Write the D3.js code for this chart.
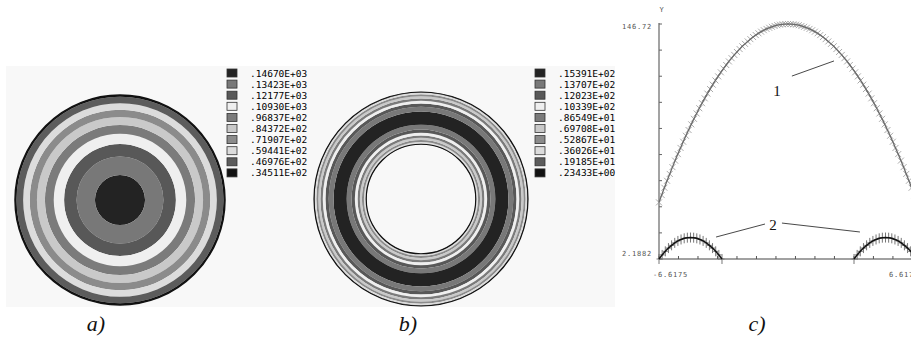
<!DOCTYPE html>
<html>
<head>
<meta charset="utf-8">
<script src="https://cdn.jsdelivr.net/npm/d3@7"></script>
<style>
  body { margin: 0; background: #fff; }
  svg { display: block; }
</style>
</head>
<body>
<svg id="fig" width="911" height="340"></svg>
<script>
// Konturstufen (Legenden a und b)
const levelsA = [146.70, 134.23, 121.77, 109.30, 96.837, 84.372, 71.907, 59.441, 46.976, 34.511];
const labelsA = [".14670E+03", ".13423E+03", ".12177E+03", ".10930E+03", ".96837E+02",
                 ".84372E+02", ".71907E+02", ".59441E+02", ".46976E+02", ".34511E+02"];
const levelsB = [15.391, 13.707, 12.023, 10.339, 8.6549, 6.9708, 5.2867, 3.6026, 1.9185, 0.23433];
const labelsB = [".15391E+02", ".13707E+02", ".12023E+02", ".10339E+02", ".86549E+01",
                 ".69708E+01", ".52867E+01", ".36026E+01", ".19185E+01", ".23433E+00"];
const levelColors = ["#232323", "#787878", "#585858", "#efefef", "#7b7b7b",
                     "#c9c9c9", "#8b8b8b", "#dcdcdc", "#5c5c5c", "#121212"];

// Diagramm c: Achsenbereiche
const xDomain = [-6.6175, 6.6175];
const yDomain = [2.1882, 146.72];
const xTickLabels = ["-6.6175", "6.6175"];
const yTickLabels = ["2.1882", "146.72"];

// Kurve 1: Profil über den Durchmesser der Vollscheibe (97 Punkte, gleichabständig in x)
const curve1 = [
  37.0, 41.5, 46.0, 50.3, 54.5, 58.7, 62.7, 66.7, 70.5, 74.3, 78.0, 81.5,
  85.0, 88.4, 91.7, 94.9, 98.0, 101.0, 103.9, 106.7, 109.4, 112.0, 114.5, 117.0,
  119.3, 121.5, 123.7, 125.7, 127.7, 129.5, 131.3, 133.0, 134.5, 136.0, 137.4, 138.7,
  139.9, 141.0, 142.0, 142.9, 143.7, 144.4, 145.0, 145.5, 146.0, 146.3, 146.5, 146.7,
  146.72,
  146.7, 146.5, 146.3, 146.0, 145.5, 145.0, 144.4, 143.7, 142.9, 142.0, 141.0, 139.9,
  138.7, 137.4, 136.0, 134.5, 133.0, 131.3, 129.5, 127.7, 125.7, 123.7, 121.5, 119.3,
  117.0, 114.5, 112.0, 109.4, 106.7, 103.9, 101.0, 98.0, 94.9, 91.7, 88.4, 85.0,
  81.5, 78.0, 74.3, 70.5, 66.7, 62.7, 58.7, 54.5, 50.3, 46.0, 41.5, 37.0];

// Kurve 2: Profil über den Ring (Innenradius = Loch)
const holeRadius = 3.386;
const curve2Left = [2.19, 4.7, 6.9, 8.9, 10.6, 12.1, 13.3, 14.2, 14.9, 15.3, 15.39,
                    15.3, 14.9, 14.2, 13.3, 12.1, 10.6, 8.9, 6.9, 4.7, 2.19];
const curve2Right = [2.19, 4.7, 6.9, 8.9, 10.6, 12.1, 13.3, 14.2, 14.9, 15.3, 15.39,
                     15.3, 14.9, 14.2, 13.3, 12.1, 10.6, 8.9, 6.9, 4.7, 2.19];

// Beschriftungen
const annotations = [
  { label: "1", x: -0.56, y: 105.5, lines: [[[0.2, 114.7], [2.36, 124.0]]] },
  { label: "2", x: -0.77, y: 23.4, lines: [[[-3.69, 15.7], [-1.18, 23.7]], [[-0.31, 24.3], [3.69, 18.8]]] }
];
const panelLabels = ["a)", "b)", "c)"];

const svg = d3.select("#fig");
const mono = "'DejaVu Sans Mono', monospace";

// heller Hintergrund der Konturbilder
svg.append("rect").attr("x", 6).attr("y", 66).attr("width", 609).attr("height", 241)
  .attr("fill", "#f8f8f8");

const xs1 = d3.range(curve1.length).map(i => xDomain[0] + i * (xDomain[1] - xDomain[0]) / (curve1.length - 1));
const xs2L = d3.range(curve2Left.length).map(i => xDomain[0] + i * (-holeRadius - xDomain[0]) / (curve2Left.length - 1));
const xs2R = d3.range(curve2Right.length).map(i => holeRadius + i * (xDomain[1] - holeRadius) / (curve2Right.length - 1));

// Bänder aus radialem Profil + Stufen bestimmen
function contourBands(prof, r0, r1, levels) {
  const step = (levels[0] - levels[levels.length - 1]) / (levels.length - 1);
  const out = [];
  const n = 800;
  for (let k = 0; k < n; k++) {
    const ra = r0 + (r1 - r0) * k / n, rb = r0 + (r1 - r0) * (k + 1) / n;
    const v = prof((ra + rb) / 2);
    const idx = Math.max(0, Math.min(levels.length - 1, Math.round((levels[0] - v) / step)));
    const last = out[out.length - 1];
    if (last && last.idx === idx) last.r1 = rb; else out.push({ idx, r0: ra, r1: rb });
  }
  return out;
}

function drawDisk(cx, cy, R, bands, inner, strokeW) {
  const rScale = d3.scaleLinear().domain([0, xDomain[1]]).range([0, R]);
  const g = svg.append("g").attr("transform", `translate(${cx},${cy})`);
  const arc = d3.arc().startAngle(0).endAngle(2 * Math.PI);
  g.selectAll("path.band").data(bands).join("path")
    .attr("class", "band")
    .attr("d", d => arc({ innerRadius: rScale(d.r0), outerRadius: rScale(d.r1) }))
    .attr("fill", d => levelColors[d.idx]);
  g.append("circle").attr("r", R).attr("fill", "none").attr("stroke", "#111").attr("stroke-width", strokeW);
  if (inner > 0) {
    g.append("circle").attr("r", rScale(inner)).attr("fill", "none").attr("stroke", "#111").attr("stroke-width", 1.2);
  }
}

// Scheibe a
const mid = (curve1.length - 1) / 2;
const profA = d3.scaleLinear().domain(xs1.slice(mid)).range(curve1.slice(mid)).clamp(true);
drawDisk(120, 200, 105, contourBands(profA, 0, xDomain[1], levelsA), 0, 1.5);

// Ring b
const profB = d3.scaleLinear().domain(xs2R).range(curve2Right).clamp(true);
drawDisk(421, 199, 107, contourBands(profB, holeRadius, xDomain[1], levelsB), holeRadius, 1.2);

// Legenden
function drawLegend(x0, labels) {
  const g = svg.append("g");
  const rowY = d3.scaleLinear().domain([0, 1]).range([69, 80.1]);
  const rows = g.selectAll("g").data(labels).join("g")
    .attr("transform", (d, i) => `translate(${x0},${rowY(i)})`);
  rows.append("rect").attr("width", 10).attr("height", 8)
    .attr("fill", (d, i) => levelColors[i]).attr("stroke", "#333").attr("stroke-width", 0.8);
  rows.append("text").attr("x", 23).attr("y", 7.5)
    .attr("font-family", mono).attr("font-size", 9.5).attr("fill", "#000")
    .text(d => d);
}
drawLegend(227, labelsA);
drawLegend(535, labelsB);

// Diagramm c
const x = d3.scaleLinear().domain(xDomain).range([659, 917]);
const y = d3.scaleLinear().domain(yDomain).range([259, 24]);
const gc = svg.append("g");

// Achsen
gc.append("line").attr("x1", x(xDomain[0])).attr("x2", x(xDomain[0]))
  .attr("y1", y(yDomain[1]) - 1).attr("y2", y(yDomain[0])).attr("stroke", "#666").attr("stroke-width", 1.2);
gc.append("line").attr("x1", x(xDomain[0])).attr("x2", x(xDomain[1]))
  .attr("y1", y(yDomain[0])).attr("y2", y(yDomain[0])).attr("stroke", "#444").attr("stroke-width", 1.2);
const yTicks = d3.range(10).map(k => yDomain[0] + k * (yDomain[1] - yDomain[0]) / 9);
gc.selectAll("line.yt").data(yTicks).join("line").attr("class", "yt")
  .attr("x1", x(xDomain[0])).attr("x2", x(xDomain[0]) + 3)
  .attr("y1", d => y(d)).attr("y2", d => y(d)).attr("stroke", "#666");
const xTicks = d3.range(14).map(k => xDomain[0] + k);
gc.selectAll("line.xt").data(xTicks).join("line").attr("class", "xt")
  .attr("x1", d => x(d)).attr("x2", d => x(d))
  .attr("y1", y(yDomain[0])).attr("y2", y(yDomain[0]) - 3).attr("stroke", "#555");

const small = sel => sel.attr("font-family", mono).attr("font-size", 7).attr("letter-spacing", 0.8).attr("fill", "#555");
gc.append("text").attr("x", x(xDomain[0]) + 3).attr("y", 12).attr("text-anchor", "middle").text("Y").call(small);
gc.append("text").attr("x", x(xDomain[0]) - 7).attr("y", y(yDomain[1]) + 5).attr("text-anchor", "end").text(yTickLabels[1]).call(small);
gc.append("text").attr("x", x(xDomain[0]) - 7).attr("y", y(yDomain[0]) - 3).attr("text-anchor", "end").text(yTickLabels[0]).call(small);
gc.append("text").attr("x", x(xDomain[0]) - 6).attr("y", y(yDomain[0]) + 18).text(xTickLabels[0]).call(small);
gc.append("text").attr("x", x(xDomain[1]) + 2).attr("y", y(yDomain[0]) + 18).attr("text-anchor", "end").text(xTickLabels[1]).call(small);

// Kurve 1
const pts1 = xs1.map((xv, i) => [xv, curve1[i]]);
const line = d3.line().x(d => x(d[0])).y(d => y(d[1]));
gc.selectAll("path.m1").data(pts1).join("path").attr("class", "m1")
  .attr("transform", d => `translate(${x(d[0])},${y(d[1])})`)
  .attr("d", "M-3,-3L3,3M-3,3L3,-3")
  .attr("stroke", "#a0a0a0").attr("stroke-width", 0.9).attr("fill", "none");
gc.append("path").attr("d", line(pts1)).attr("fill", "none").attr("stroke", "#6a6a6a").attr("stroke-width", 1.3);

// Kurve 2 (zwei Bögen)
[xs2L.map((xv, i) => [xv, curve2Left[i]]), xs2R.map((xv, i) => [xv, curve2Right[i]])].forEach(pts => {
  gc.selectAll(null).data(pts).join("path")
    .attr("transform", d => `translate(${x(d[0])},${y(d[1])})`)
    .attr("d", "M0,-5V5M-2.5,0H2.5")
    .attr("stroke", "#777").attr("stroke-width", 1).attr("fill", "none");
  gc.append("path").attr("d", line(pts)).attr("fill", "none").attr("stroke", "#111").attr("stroke-width", 1.5);
});

// Bezugslinien und Ziffern
annotations.forEach(a => {
  a.lines.forEach(l => {
    gc.append("line").attr("x1", x(l[0][0])).attr("y1", y(l[0][1]))
      .attr("x2", x(l[1][0])).attr("y2", y(l[1][1])).attr("stroke", "#333").attr("stroke-width", 0.9);
  });
  gc.append("text").attr("x", x(a.x)).attr("y", y(a.y) + 5).attr("text-anchor", "middle")
    .attr("font-family", "'Liberation Serif', serif").attr("font-size", 15).attr("fill", "#111")
    .text(a.label);
});

// Teilbild-Bezeichnungen
const labelX = [96, 408, 757];
svg.selectAll("text.panel").data(panelLabels).join("text").attr("class", "panel")
  .attr("x", (d, i) => labelX[i]).attr("y", 331).attr("text-anchor", "middle")
  .attr("font-family", "'Liberation Serif', serif").attr("font-style", "italic")
  .attr("font-size", 22).attr("fill", "#111").text(d => d);
</script>
</body>
</html>
